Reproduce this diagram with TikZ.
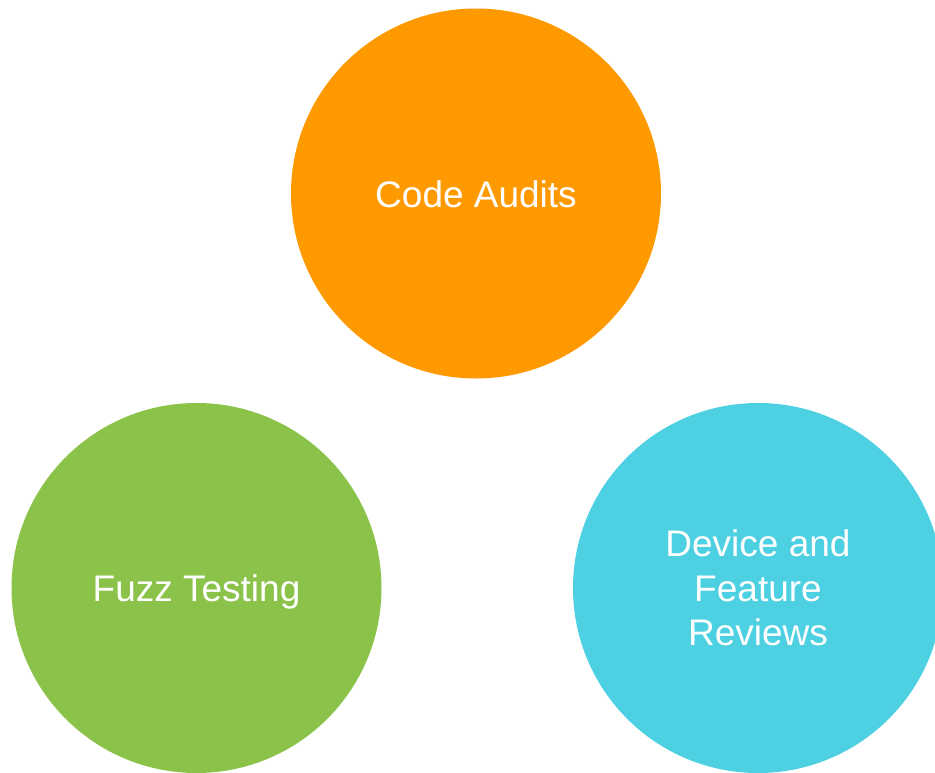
\documentclass[tikz,border=0pt]{standalone}
\usepackage{fontspec}
\setmainfont{Liberation Sans}
\definecolor{orangeC}{HTML}{FF9900}
\definecolor{greenC}{HTML}{8BC34A}
\definecolor{cyanC}{HTML}{4DD0E1}
\begin{document}
\begin{tikzpicture}[x=1pt,y=-1pt,
  bubble/.style={circle, minimum size=370pt, inner sep=0pt, text=white,
    font=\fontsize{37}{44.5}\selectfont, align=center},
  oneline/.style={text height=27.5pt, text depth=0pt}]
\useasboundingbox (0,0) rectangle (935,772);
\node[bubble, oneline, fill=orangeC] (audits) at (476,193.5) {Code Audits};
\node[bubble, oneline, fill=greenC] (fuzz) at (196.5,588) {Fuzz Testing};
\node[bubble, fill=cyanC] (reviews) at (758,588) {Device and\\Feature\\Reviews};
\end{tikzpicture}
\end{document}
